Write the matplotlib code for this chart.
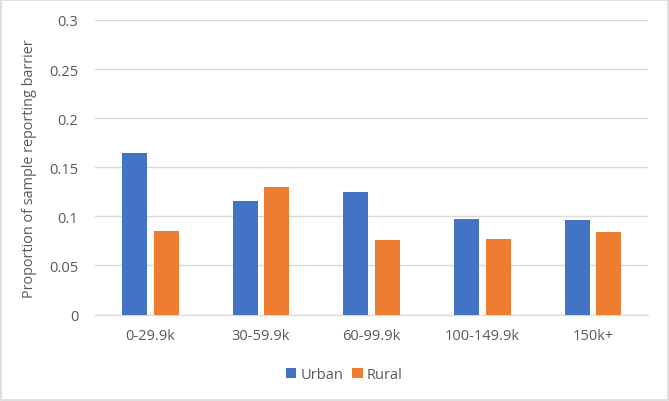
import numpy as np
import matplotlib.pyplot as plt

categories = ['0-29.9k', '30-59.9k', '60-99.9k', '100-149.9k', '150k+']
urban = [0.164, 0.116, 0.125, 0.097, 0.096]
rural = [0.085, 0.130, 0.076, 0.077, 0.084]

plt.rcParams['font.family'] = ['Open Sans', 'DejaVu Sans']

fig = plt.figure(figsize=(6.69, 4.02), dpi=100)
ax = fig.add_axes([0.142, 0.215, 0.827, 0.733])

x = np.arange(len(categories))
w = 0.225
ax.bar(x - 0.143, urban, w, color='#4472C4', label='Urban', zorder=3)
ax.bar(x + 0.143, rural, w, color='#ED7D31', label='Rural', zorder=3)

ax.set_xlim(-0.5, len(categories) - 0.5)
ax.set_ylim(0, 0.3)
ax.set_yticks(np.arange(0, 0.31, 0.05))
ax.set_yticklabels(['0', '0.05', '0.1', '0.15', '0.2', '0.25', '0.3'])
ax.set_xticks(x)
ax.set_xticklabels(categories)
ax.grid(axis='y', color='#D9D9D9', linewidth=1, zorder=0)
for s in ['top', 'right', 'left']:
    ax.spines[s].set_visible(False)
ax.spines['bottom'].set_color('#D9D9D9')
ax.tick_params(axis='both', length=0, colors='#595959', labelsize=10.5)
ax.tick_params(axis='x', pad=10)
ax.tick_params(axis='y', pad=12)
ax.set_ylabel('Proportion of sample reporting barrier', color='#595959', fontsize=10.4, labelpad=9)

fig.legend(loc='center', bbox_to_anchor=(0.515, 0.066), ncol=2, frameon=False,
           fontsize=10.5, labelcolor='#595959', handlelength=0.7, handleheight=0.7,
           handletextpad=0.3, columnspacing=0.6)

fig.patches.append(plt.Rectangle((0.002, 0.003), 0.996, 0.994, transform=fig.transFigure,
                                 fill=False, edgecolor='#D9D9D9', linewidth=1.2))

plt.savefig('out.png', dpi=100)
